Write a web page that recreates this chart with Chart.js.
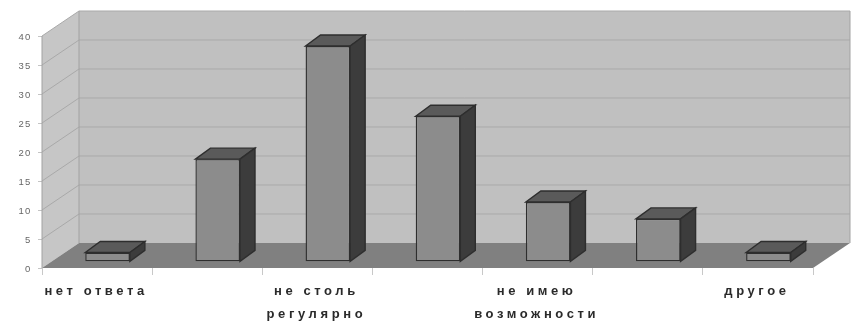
<!DOCTYPE html>
<html>
<head>
<meta charset="utf-8">
<style>
  html, body { margin: 0; padding: 0; background: #fff; }
  #wrap { width: 852px; height: 322px; }
</style>
<script src="https://cdn.jsdelivr.net/npm/chart.js@4/dist/chart.umd.min.js"></script>
</head>
<body>
<div id="wrap"><canvas id="c" width="852" height="322"></canvas></div>
<script>
const categories = [
  'нет ответа',
  '',
  ['не столь', 'регулярно'],
  '',
  ['не имею', 'возможности'],
  '',
  'другое'
];
const responses = [1.6, 17.7, 37.2, 25.1, 10.3, 7.4, 1.6];
const yMin = 0;
const yMax = 40;
const yStep = 5;

// Projection of the box: how far the back wall sits behind the front plane.
const WALL_DX = 37, WALL_DY = -25;
// Bars stand in the middle of the floor, and their own depth is shorter.
const BAR_DX = 10.5, BAR_DY = -6.2;
const BOX_DX = 15, BOX_DY = -11;

function poly(ctx, pts, fill, stroke, lw) {
  ctx.beginPath();
  pts.forEach((p, i) => i ? ctx.lineTo(p[0], p[1]) : ctx.moveTo(p[0], p[1]));
  ctx.closePath();
  if (fill) { ctx.fillStyle = fill; ctx.fill(); }
  if (stroke) { ctx.strokeStyle = stroke; ctx.lineWidth = lw || 1; ctx.stroke(); }
}

const room = {
  id: 'room',
  beforeDatasetsDraw(chart) {
    const { ctx, chartArea: a, scales: { y } } = chart;
    const l = a.left, r = a.right, b = a.bottom, t = a.top;
    ctx.save();
    // back wall
    poly(ctx, [[l + WALL_DX, t + WALL_DY], [r + WALL_DX, t + WALL_DY], [r + WALL_DX, b + WALL_DY], [l + WALL_DX, b + WALL_DY]], '#c0c0c0');
    // side wall
    poly(ctx, [[l, t], [l + WALL_DX, t + WALL_DY], [l + WALL_DX, b + WALL_DY], [l, b]], '#c6c6c6');
    // floor
    poly(ctx, [[l, b], [r, b], [r + WALL_DX, b + WALL_DY], [l + WALL_DX, b + WALL_DY]], '#808080');
    // gridlines run along the side wall and across the back wall
    ctx.strokeStyle = '#a9a9a9';
    ctx.lineWidth = 1;
    for (let v = yMin + yStep; v <= yMax; v += yStep) {
      const py = y.getPixelForValue(v);
      ctx.beginPath();
      ctx.moveTo(l, py);
      ctx.lineTo(l + WALL_DX, py + WALL_DY);
      ctx.lineTo(r + WALL_DX, py + WALL_DY);
      ctx.stroke();
    }
    // wall edges
    ctx.strokeStyle = '#a2a2a2';
    ctx.beginPath();
    ctx.moveTo(l, b);
    ctx.lineTo(l, t);
    ctx.moveTo(l + WALL_DX, b + WALL_DY);
    ctx.lineTo(l + WALL_DX, t + WALL_DY);
    ctx.moveTo(r + WALL_DX, b + WALL_DY);
    ctx.lineTo(r + WALL_DX, t + WALL_DY);
    ctx.stroke();
    ctx.restore();
  },
  beforeDatasetDraw(chart, args) {
    const ctx = chart.ctx;
    ctx.save();
    ctx.translate(BAR_DX, BAR_DY);
    args.meta.data.forEach(el => {
      const x0 = el.x - el.width / 2, x1 = el.x + el.width / 2;
      const top = el.y, base = el.base;
      poly(ctx, [[x0, top], [x1, top], [x1 + BOX_DX, top + BOX_DY], [x0 + BOX_DX, top + BOX_DY]], '#5a5a5a', '#2e2e2e', 1.4);
      poly(ctx, [[x1, top], [x1 + BOX_DX, top + BOX_DY], [x1 + BOX_DX, base + BOX_DY], [x1, base]], '#3c3c3c', '#2e2e2e', 1.4);
    });
  },
  afterDatasetDraw(chart) {
    chart.ctx.restore();
  },
  beforeDraw(chart) {
    // Each axis draws its labels with its own letter spacing and nudge.
    const style = { x: { gap: '3.6px', dx: -1, dy: -1 }, y: { gap: '1.2px', dx: 0.5, dy: 1 } };
    Object.keys(style).forEach(id => {
      const scale = chart.scales[id];
      if (scale._spaced) return;
      scale._spaced = true;
      const draw = scale.drawLabels;
      scale.drawLabels = function (area) {
        const ctx = chart.ctx;
        ctx.save();
        ctx.letterSpacing = style[id].gap;
        ctx.translate(style[id].dx, style[id].dy);
        draw.call(this, area);
        ctx.restore();
      };
    });
  }
};

new Chart(document.getElementById('c'), {
  type: 'bar',
  data: {
    labels: categories,
    datasets: [{
      data: responses,
      backgroundColor: '#8c8c8c',
      borderColor: '#2e2e2e',
      borderWidth: 1.4,
      borderSkipped: false,
      barPercentage: 1,
      categoryPercentage: 0.405,
      clip: false
    }]
  },
  plugins: [room],
  options: {
    responsive: false,
    animation: false,
    layout: { padding: { top: 36, right: 39, left: 0, bottom: 0 } },
    plugins: { legend: { display: false }, tooltip: { enabled: false }, title: { display: false } },
    scales: {
      x: {
        afterFit(s) { s.height = 54; },
        border: { display: false },
        grid: { display: true, drawOnChartArea: false, drawTicks: true, tickLength: 7, color: '#c8c8c8', offset: true },
        ticks: {
          autoSkip: false,
          maxRotation: 0,
          minRotation: 0,
          color: '#2a2a2a',
          padding: 6,
          font: { family: '"Liberation Sans", Arial, sans-serif', size: 13, weight: 'bold', lineHeight: 1.77 }
        }
      },
      y: {
        min: yMin,
        max: yMax,
        afterFit(s) { s.width = 42; },
        border: { display: false },
        grid: { display: true, drawOnChartArea: false, drawTicks: true, tickLength: 4, color: '#c4c4c4' },
        ticks: {
          stepSize: yStep,
          color: '#666666',
          padding: 7,
          font: { family: '"Liberation Sans", Arial, sans-serif', size: 9.5 }
        }
      }
    }
  }
});
</script>
</body>
</html>
